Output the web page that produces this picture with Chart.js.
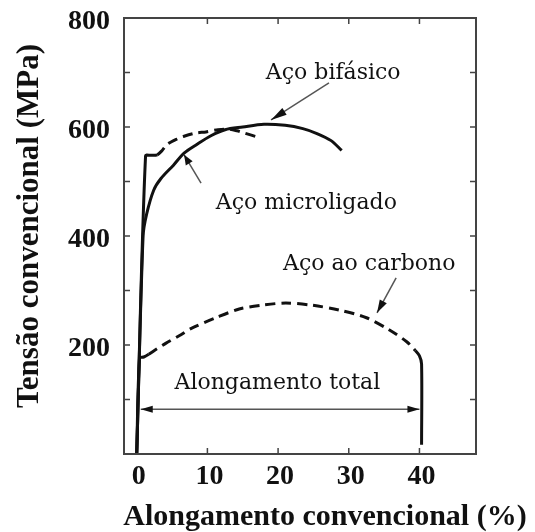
<!DOCTYPE html>
<html><head><meta charset="utf-8">
<script src="https://cdn.jsdelivr.net/npm/chart.js@4/dist/chart.umd.min.js"></script>
<style>html,body{margin:0;padding:0;background:#fff}</style>
</head><body>
<canvas id="c" width="535" height="532"></canvas>
<script>
// ---- data (strain %, stress MPa) ----
const bifasicoStrain = [0, 0.9, 1.4, 2.4, 3.4, 5.2, 6.7, 8.5, 10.5, 12.5, 15, 18, 21, 23.5, 25.5, 27.5, 29];
const bifasicoStress = [0, 400, 440, 484, 505, 530, 552, 568, 584, 595, 600, 605, 603, 597, 588, 575, 557];

const microStrain = [0, 1.25, 2.0, 2.9, 3.6, 4.3, 5.7, 6.7, 8.4, 9.8, 11.5, 13.0, 14.2, 15.2, 17.0];
const microStress = [0, 547, 548, 549, 557, 568, 578, 583, 589, 591, 595, 596, 593, 589, 582];

const carbonoStrain = [0, 0.4, 1.0, 1.7, 2.5, 4.1, 6.0, 7.8, 11.2, 14.5, 17.7, 21.1, 24.8, 28.7, 32.5, 35.7, 38.2, 39.4, 40.0, 40.3, 40.3];
const carbonoStress = [0, 176, 178, 183, 190, 203, 217, 231, 250, 266, 273, 277, 273, 264, 250, 228, 206, 190, 180, 165, 17];

const xTickValues = [0, 10, 20, 30, 40];
const yTickLabels = [200, 400, 600, 800];
const xTitle = 'Alongamento convencional (%)';
const yTitle = 'Tensão convencional (MPa)';

// annotations in data units
const labels = [
  {text: 'Aço bifásico', x: 27.8, y: 699},
  {text: 'Aço microligado', x: 24.0, y: 460},
  {text: 'Aço ao carbono', x: 32.9, y: 349},
  {text: 'Alongamento total', x: 19.9, y: 130}
];
const arrows = [
  {from: [27.2, 681], to: [19.0, 613], head: 16},
  {from: [9.1, 497], to: [6.7, 549], head: 10},
  {from: [36.7, 323], to: [34.0, 259], head: 13}
];
const spanArrow = {y: 82, x0: 0.57, x1: 40.0};

function pts(xs, ys){ return xs.map((x,i)=>({x, y: ys[i]})); }
const DASH = [10, 6];

function drawHead(ctx, x0, y0, x1, y1, len, w){
  const a = Math.atan2(y1 - y0, x1 - x0);
  ctx.beginPath();
  ctx.moveTo(x1, y1);
  ctx.lineTo(x1 - len*Math.cos(a) + w*Math.sin(a), y1 - len*Math.sin(a) - w*Math.cos(a));
  ctx.lineTo(x1 - len*Math.cos(a) - w*Math.sin(a), y1 - len*Math.sin(a) + w*Math.cos(a));
  ctx.closePath();
  ctx.fill();
}

const framePlugin = {
  id: 'frame',
  afterDatasetsDraw(chart){
    const ctx = chart.ctx, a = chart.chartArea;
    const xs = chart.scales.x, ys = chart.scales.y;
    ctx.save();
    // frame
    ctx.strokeStyle = '#444'; ctx.lineWidth = 2;
    ctx.strokeRect(a.left, a.top, a.right - a.left, a.bottom - a.top);
    // inward ticks
    ctx.lineWidth = 1.5;
    ctx.beginPath();
    for (let v = 100; v < 800; v += 100){
      const y = ys.getPixelForValue(v);
      ctx.moveTo(a.left, y); ctx.lineTo(a.left + 6, y);
      ctx.moveTo(a.right, y); ctx.lineTo(a.right - 6, y);
    }
    xTickValues.filter(v => v > 0).forEach(v => {
      const x = xs.getPixelForValue(v);
      ctx.moveTo(x, a.bottom); ctx.lineTo(x, a.bottom - 6);
      ctx.moveTo(x, a.top); ctx.lineTo(x, a.top + 6);
    });
    ctx.stroke();

    // annotation arrows
    ctx.strokeStyle = '#555'; ctx.fillStyle = '#111'; ctx.lineWidth = 1.5;
    arrows.forEach(ar => {
      const x0 = xs.getPixelForValue(ar.from[0]), y0 = ys.getPixelForValue(ar.from[1]);
      const x1 = xs.getPixelForValue(ar.to[0]), y1 = ys.getPixelForValue(ar.to[1]);
      ctx.beginPath(); ctx.moveTo(x0, y0); ctx.lineTo(x1, y1); ctx.stroke();
      drawHead(ctx, x0, y0, x1, y1, ar.head, 4);
    });
    // span arrow
    const sy = ys.getPixelForValue(spanArrow.y);
    const sx0 = xs.getPixelForValue(spanArrow.x0), sx1 = xs.getPixelForValue(spanArrow.x1);
    ctx.beginPath(); ctx.moveTo(sx0, sy); ctx.lineTo(sx1, sy); ctx.stroke();
    drawHead(ctx, sx1, sy, sx0, sy, 12, 3.5);
    drawHead(ctx, sx0, sy, sx1, sy, 12, 3.5);

    // labels
    ctx.fillStyle = '#111';
    ctx.font = '22px "DejaVu Serif"';
    ctx.textAlign = 'center'; ctx.textBaseline = 'middle';
    labels.forEach(l => ctx.fillText(l.text, xs.getPixelForValue(l.x), ys.getPixelForValue(l.y)));

    // axis titles
    ctx.font = 'bold 30px "Liberation Serif"';
    ctx.fillText(xTitle, 325, 517);
    ctx.font = 'bold 31px "Liberation Serif"';
    ctx.translate(30, 226); ctx.rotate(-Math.PI/2);
    ctx.fillText(yTitle, 0, 0);
    ctx.restore();
  }
};

const lineBase = {showLine: true, pointRadius: 0, borderColor: '#111', borderWidth: 3, tension: 0.3, fill: false};

new Chart(document.getElementById('c'), {
  type: 'scatter',
  data: {
    datasets: [
      Object.assign({label: 'Aço bifásico', data: pts(bifasicoStrain, bifasicoStress)}, lineBase),
      Object.assign({label: 'Aço microligado', data: pts(microStrain, microStress),
        segment: {borderDash: c => c.p0.parsed.x >= 2.9 ? DASH : undefined}}, lineBase),
      Object.assign({label: 'Aço ao carbono', data: pts(carbonoStrain, carbonoStress),
        segment: {borderDash: c => (c.p0.parsed.x >= 1.7 && c.p1.parsed.x <= 39.4) ? DASH : undefined}}, lineBase)
    ]
  },
  options: {
    responsive: false,
    animation: false,
    devicePixelRatio: 1,
    layout: {padding: {left: 0, top: 18, right: 59, bottom: 0}},
    plugins: {legend: {display: false}, tooltip: {enabled: false}},
    scales: {
      x: {
        type: 'linear', min: -1.8, max: 48,
        afterBuildTicks: s => { s.ticks = xTickValues.map(v => ({value: v})); },
        afterFit: s => { s.height = 78; },
        grid: {display: false, drawTicks: false}, border: {display: false},
        ticks: {padding: 6, labelOffset: 2, color: '#111', font: {family: 'Liberation Serif', weight: 'bold', size: 28}, maxRotation: 0, autoSkip: false}
      },
      y: {
        type: 'linear', min: 0, max: 800,
        afterBuildTicks: s => { s.ticks = yTickLabels.map(v => ({value: v})); },
        afterFit: s => { s.width = 124; s.paddingTop = 0; s.paddingBottom = 0; },
        grid: {display: false, drawTicks: false}, border: {display: false},
        ticks: {padding: 14, labelOffset: 4, color: '#111', font: {family: 'Liberation Serif', weight: 'bold', size: 28, lineHeight: 0.6}, autoSkip: false}
      }
    }
  },
  plugins: [framePlugin]
});
</script>
</body></html>
